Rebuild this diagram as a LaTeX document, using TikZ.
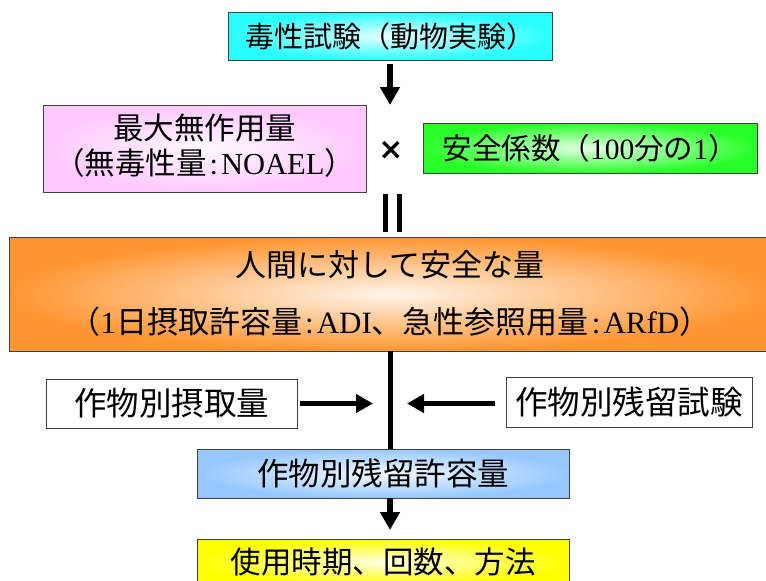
\documentclass[tikz,border=0pt]{standalone}
\usepackage{fontspec}
\setmainfont{Liberation Serif}
\newfontfamily\jp{Noto Sans CJK JP}
\newfontfamily\symf{DejaVu Sans}
\usetikzlibrary{arrows.meta}
\definecolor{cyanc}{RGB}{40,255,255}
\definecolor{pinkc}{RGB}{255,200,255}
\definecolor{greenc}{RGB}{40,255,40}
\definecolor{orangec}{RGB}{255,150,50}
\definecolor{bluec}{RGB}{150,200,255}
\definecolor{yellowc}{RGB}{255,255,0}
\newcommand{\cl}{\hspace{3pt}:\hspace{3pt}}
\begin{document}
\begin{tikzpicture}[x=1pt,y=-1pt,
  box/.style={draw=black!75, line width=0.9pt, inner sep=0pt, align=center},
  grad/.style={inner color=#1!10!white, outer color=#1},
  fsz/.style={font=\fontsize{#1}{#1}\selectfont},
  thickarrow/.style={line width=6pt, -{Triangle[width=19pt,length=18pt]}},
  harrow/.style={line width=4.5pt, -{Triangle[width=18pt,length=17pt]}},
  bar/.style={line width=5pt}]
\useasboundingbox (0,0) rectangle (766,581);
% nodes
\node[box, grad=cyanc, minimum width=324, minimum height=48, fsz=29] (tox) at (390,36) {\jp 毒性試験（動物実験）};
\node[box, grad=pinkc, minimum width=323, minimum height=87, font=\fontsize{30.5}{30}\selectfont] (noael) at (204.5,148.5)
  {\raisebox{1.5pt}{\begin{tabular}{@{}c@{}}{\jp 最大無作用量}\\{\jp （無毒性量}\cl NOAEL{\jp ）}\end{tabular}}};
\node[box, grad=greenc, minimum width=334, minimum height=50, fsz=29.5] (safe) at (590,148)
  {{\jp 安全係数（}100{\jp 分の}1{\jp ）}};
\node[font=\symf\bfseries\fontsize{30}{30}\selectfont] (times) at (391,150) {×};
\node[box, grad=orangec, minimum width=762, minimum height=106, font=\fontsize{31}{57}\selectfont] (human) at (390,294)
  {\raisebox{-2.5pt}{\begin{tabular}{@{}c@{}}{\jp 人間に対して安全な量}\\{\jp （}1{\jp 日摂取許容量}\cl ADI{\jp 、急性参照用量}\cl ARfD{\jp ）}\end{tabular}}};
\node[box, fill=white, minimum width=251, minimum height=49, fsz=32.5] (intake) at (171.5,403.5) {\jp 作物別摂取量};
\node[box, fill=white, minimum width=246, minimum height=50, fsz=32.5] (resid) at (629,402) {\jp 作物別残留試験};
\node[box, grad=bluec, minimum width=372, minimum height=49, fsz=31.5] (mrl) at (383,473.5) {\jp 作物別残留許容量};
\node[box, grad=yellowc, minimum width=372, minimum height=46, fsz=30.5] (use) at (383,562) {\jp 使用時期、回数、方法};
% equals sign (vertical)
\draw[bar] (385.5,194) -- (385.5,232) (399.5,194) -- (399.5,232);
% connectors
\coordinate (a1tip) at (390,105);
\draw[thickarrow] ([yshift=-4pt]tox.south) -- (a1tip);
\draw[bar] (human.south) -- (human.south |- mrl.north);
\coordinate (ltip) at (373,403.5);
\coordinate (rtip) at (407,403.5);
\draw[harrow] ([xshift=3pt]intake.east) -- (ltip);
\draw[harrow] (resid.west |- rtip) ++(-11pt,0) -- (rtip);
\coordinate (btip) at (390,530);
\draw[thickarrow] (mrl.south -| btip) -- (btip);
\end{tikzpicture}
\end{document}
